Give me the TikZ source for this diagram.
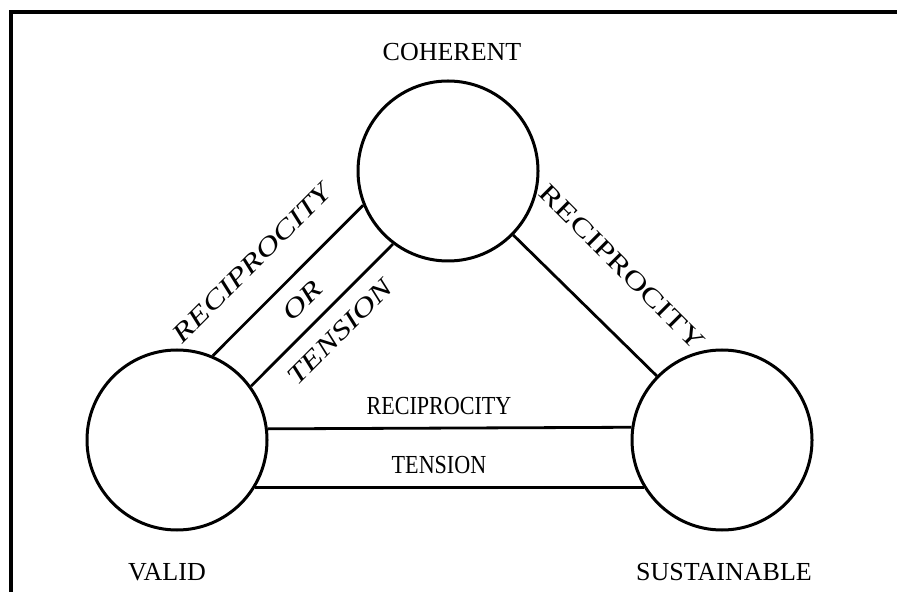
\documentclass[tikz,border=0pt]{standalone}
\usepackage{fontspec}
\setmainfont{Liberation Serif}
\newfontfamily\narrowfont[FakeStretch=0.85]{Liberation Serif}
\newfontfamily\widefont[FakeStretch=1.3]{Liberation Serif}
\usepackage{tikz}
\usetikzlibrary{positioning}

\tikzset{
    pole/.style={circle, draw, line width=1.5pt, minimum size=90pt, inner sep=0pt},
    link/.style={line width=1.4pt},
    corner/.style={font=\fontsize{13}{15}\selectfont, inner sep=0pt},
    flat/.style={font=\narrowfont\fontsize{13}{15}\selectfont, inner sep=0pt},
    slope/.style={font=\widefont\fontsize{13}{15}\selectfont, inner sep=0pt}
}

\begin{document}
\begin{tikzpicture}[x=0.5pt, y=-0.5pt]
                \useasboundingbox (0,0) rectangle (897,592);
                % frame
                \coordinate (fbot) at (11,592);
                \coordinate (fcorner) at (11,12);
                \coordinate (fright) at (897,12);
                \draw[line width=2pt] (fbot) -- (fcorner) -- (fright);

                \node[pole] (coherent) at (448,171) {};
                \node[pole] (valid) at (177,440) {};
                \node[pole] (sustainable) at (722,440) {};

                \node[corner] (coherentlbl) at (452,52) {COHERENT};
                \node[corner] (validlbl) at (167,572) {VALID};
                \node[corner] (sustainablelbl) at (724,572) {SUSTAINABLE};

                % valid -- coherent
                \draw[link] (valid.67.7) -- (coherent.202.3);
                \draw[link] (valid.36.9) -- (coherent.233);
                \node[slope, rotate=45] (rectop) at (252,263) {\itshape RECIPROCITY};
                \node[slope, rotate=45] (ortxt) at (302,301) {\itshape OR};
                \node[slope, rotate=45] (tenleft) at (340,332) {\itshape TENSION};

                % coherent -- sustainable
                \draw[link] (coherent) -- (sustainable);
                \node[slope, rotate=-45] (recright) at (622,267) {RECIPROCITY};

                % valid -- sustainable
                \draw[link] (valid.7.7) -- (sustainable.172.3);
                \draw[link] (valid.-31.5) -- (sustainable.211.5);
                \node[flat] (recbottom) at (439,406) {RECIPROCITY};
                \node[flat] (tenbottom) at (439,465) {TENSION};
\end{tikzpicture}
\end{document}
